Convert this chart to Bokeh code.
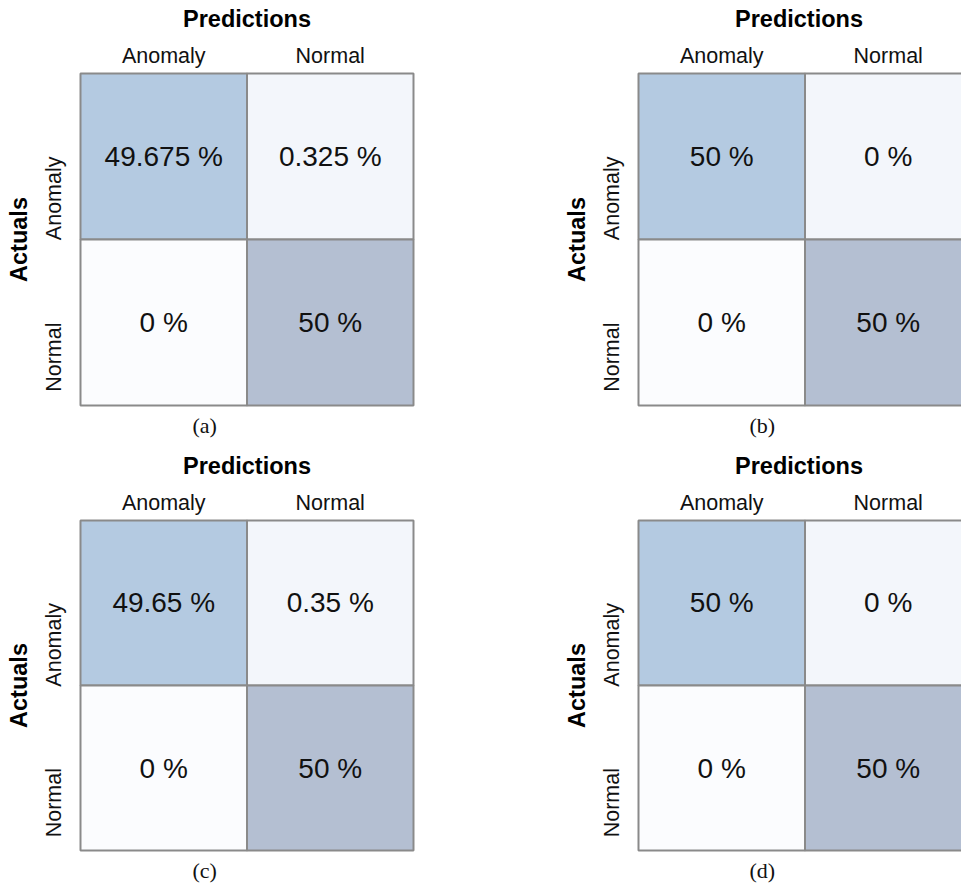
import math
from bokeh.plotting import figure
from bokeh.layouts import column, row
from bokeh.models import Range1d, FixedTicker, Title, ColumnDataSource
from bokeh.core.properties import value
from bokeh.embed import file_html
from bokeh.resources import INLINE

# ---- data ----
pred_labels = ["Anomaly", "Normal"]      # columns (Predictions)
actual_labels = ["Anomaly", "Normal"]    # rows (Actuals), top to bottom
captions = ["(a)", "(b)", "(c)", "(d)"]
panel_a = [[49.675, 0.325], [0, 50]]
panel_b = [[50, 0], [0, 50]]
panel_c = [[49.65, 0.35], [0, 50]]
panel_d = [[50, 0], [0, 50]]

# ---- styles ----
cell_colors = [["#b4cae1", "#f3f6fb"], ["#fbfcfe", "#b4bfd2"]]
SANS = "Liberation Sans"
SERIF = "Liberation Serif"
PX_PER_UNIT_X = 166.5
PAD = 0.012


def make_panel(vals, caption, width, height, bl, bt, br, bb, x_end, cap_offset):
    xs, ys, cols, txt = [], [], [], []
    n = len(actual_labels)
    for i, _ in enumerate(actual_labels):
        for j, _ in enumerate(pred_labels):
            xs.append(j + 0.5)
            ys.append(n - i - 0.5)
            cols.append(cell_colors[i][j])
            txt.append(f"{vals[i][j]:g} %")
    src = ColumnDataSource(dict(x=xs, y=ys, c=cols, t=txt))

    p = figure(width=width, height=height, output_backend="svg", toolbar_location=None,
               x_range=Range1d(-PAD, x_end), y_range=Range1d(-PAD, 2 + PAD),
               x_axis_location="above", min_border_left=bl, min_border_top=bt,
               min_border_right=br, min_border_bottom=bb)
    p.rect("x", "y", width=1, height=1, source=src, fill_color="c",
           line_color="#8a8a8a", line_width=2)
    p.text("x", "y", text="t", source=src, text_align="center", text_baseline="middle",
           text_font=value(SANS), text_font_size="28px", text_color="#111111")

    p.xaxis.ticker = FixedTicker(ticks=[j + 0.5 for j in range(len(pred_labels))])
    p.xaxis.major_label_overrides = {j + 0.5: lab for j, lab in enumerate(pred_labels)}
    p.yaxis.ticker = FixedTicker(ticks=[n - i - 0.5 for i in range(n)])
    p.yaxis.major_label_overrides = {n - i - 0.5: lab for i, lab in enumerate(actual_labels)}
    p.xaxis.axis_label = "Predictions"
    p.yaxis.axis_label = "Actuals"
    p.yaxis.major_label_orientation = math.pi / 2
    for ax in (p.xaxis, p.yaxis):
        ax.axis_line_color = None
        ax.major_tick_line_color = None
        ax.minor_tick_line_color = None
        ax.major_tick_out = 0
        ax.major_tick_in = 0
        ax.major_label_text_font = SANS
        ax.major_label_text_font_size = "21.5px"
        ax.major_label_text_color = "#111111"
        ax.axis_label_text_font = SANS
        ax.axis_label_text_font_size = "23.5px"
        ax.axis_label_text_font_style = "bold"
        ax.axis_label_text_color = "#000000"
    p.xaxis.major_label_standoff = 4
    p.xaxis.axis_label_standoff = 9
    p.yaxis.major_label_standoff = 24
    p.yaxis.axis_label_standoff = -4
    p.xgrid.grid_line_color = None
    p.ygrid.grid_line_color = None
    p.outline_line_color = None
    p.background_fill_color = "white"
    p.border_fill_color = "white"
    p.add_layout(Title(text=caption, align="left", offset=cap_offset, text_font=SERIF,
                       text_font_size="22px", text_font_style="normal",
                       text_color="#111111", standoff=6), "below")
    return p


LEFT_W = 558
RIGHT_W = 403
TOP_H = 447
BOT_H = 440
BL = 78
BT = 71
FRAME_W = 337
left_end = 2 + PAD
right_end = -PAD + (RIGHT_W - BL) / PX_PER_UNIT_X
BR_LEFT = LEFT_W - BL - FRAME_W

pa = make_panel(panel_a, captions[0], LEFT_W, TOP_H, BL, BT, BR_LEFT, 40, left_end, 114)
pb = make_panel(panel_b, captions[1], RIGHT_W, TOP_H, BL, BT, 0, 40, right_end, 113)
pc = make_panel(panel_c, captions[2], LEFT_W, BOT_H, BL, BT, BR_LEFT, 35, left_end, 114)
pd = make_panel(panel_d, captions[3], RIGHT_W, BOT_H, BL, BT, 0, 35, right_end, 113)

layout = column(row(pa, pb), row(pc, pd))
open("out.html", "w").write(file_html(layout, INLINE))
